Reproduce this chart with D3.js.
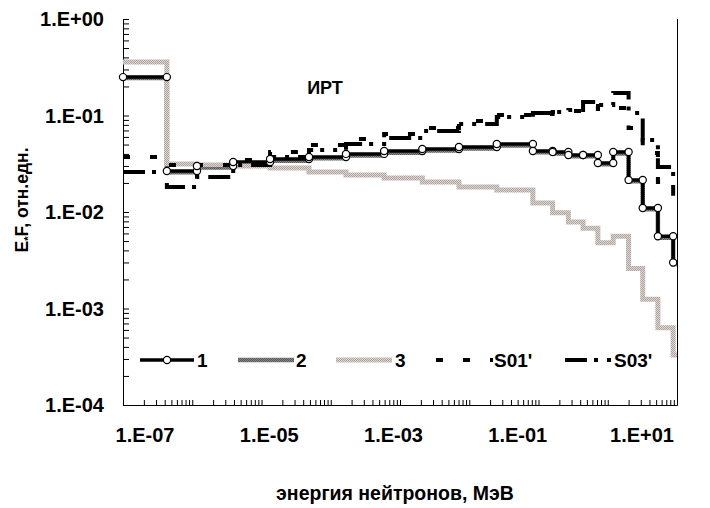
<!DOCTYPE html>
<html><head><meta charset="utf-8">
<script src="https://cdn.jsdelivr.net/npm/d3@7"></script>
<style>
html,body{margin:0;padding:0;background:#fff;}
text{font-family:"Liberation Sans",Arial,sans-serif;font-weight:bold;fill:#000;}
</style></head>
<body><svg id="c" width="710" height="508"></svg>
<script>
// ---- data ----
const edgesMeV = [1e-7, 4.3e-7, 1.17e-6, 3.9e-6, 1.33e-5, 4.85e-5, 1.66e-4, 5.9e-4, 2.1e-3, 7.1e-3, 0.025,
                  0.083, 0.16, 0.27, 0.44, 0.72, 1.2, 2.0, 3.2, 5.3, 8.8, 10];
const series1 = [0.25, 0.0266, 0.030, 0.033, 0.0354, 0.0372, 0.040, 0.0429, 0.045, 0.0472, 0.0507,
                 0.0429, 0.0419, 0.039, 0.039, 0.0322, 0.0419, 0.0215, 0.011, 0.0056, 0.0030];
const series2 = [0.245, 0.0258, 0.029, 0.032, 0.034, 0.036, 0.0385, 0.041, 0.0435, 0.0455, 0.049,
                 0.0415, 0.0405, 0.0378, 0.0378, 0.0312, 0.0405, 0.0208, 0.0107, 0.0054, 0.0029];
const series3 = [0.358, 0.0314, 0.0307, 0.0300, 0.0286, 0.0260, 0.0242, 0.0225, 0.0205, 0.0182, 0.0169,
                 0.0124, 0.0098, 0.0079, 0.0068, 0.0048, 0.0056, 0.0026, 0.00125, 0.00063, 0.00033];
const seriesS01 = [0.0372, 0.0307, 0.0307, 0.0346, 0.0419, 0.0495, 0.0571, 0.0643, 0.0742, 0.0877, 0.1012,
                   0.1036, 0.1087, 0.1113, 0.1254, 0.1168, 0.1196, 0.0742, 0.0409, 0.0205, 0.0133];
const seriesS03 = [0.0260, 0.0182, 0.0230, 0.0307, 0.0372, 0.0439, 0.0507, 0.0584, 0.0691, 0.0816, 0.0965,
                   0.1061, 0.1087, 0.1140, 0.1380, 0.1285, 0.1711, 0.1061, 0.0557, 0.0292, 0.0169];
const seriesNames = ["1", "2", "3", "S01'", "S03'"];
const xTickLabels = ["1.E-07", "1.E-05", "1.E-03", "1.E-01", "1.E+01"];
const yTickValues = [1, 0.1, 0.01, 0.001, 0.0001];
const yTickLabels = ["1.E+00", "1.E-01", "1.E-02", "1.E-03", "1.E-04"];
const chartTitle = "ИРТ";
const xTitle = "энергия нейтронов, МэВ";

// ---- layout ----
const L = 123, R = 677, T = 19, B = 405;
const svg = d3.select("#c");
const x = d3.scaleLog().domain([1e-7, 10]).range([L, R]);
const y = d3.scaleLog().domain([1e-4, 1]).range([B, T]);

const defs = svg.append("defs");
function texture(id, base, dot) {
  const p = defs.append("pattern").attr("id", id).attr("patternUnits", "userSpaceOnUse")
    .attr("width", 2).attr("height", 2);
  p.append("rect").attr("width", 2).attr("height", 2).attr("fill", base);
  p.append("rect").attr("width", 1).attr("height", 1).attr("fill", dot);
  p.append("rect").attr("x", 1).attr("y", 1).attr("width", 1).attr("height", 1).attr("fill", dot);
}
texture("pat2", "#8a8a8a", "#555555");
texture("pat3", "#ddd6d2", "#aea49e");

// axes (ticks inward)
const gy = svg.append("g").attr("transform", `translate(${L},0)`)
  .call(d3.axisLeft(y).tickValues(y.ticks()).tickSize(-6).tickFormat(""));
const gx = svg.append("g").attr("transform", `translate(0,${B})`)
  .call(d3.axisBottom(x).tickValues(x.ticks().filter(v => v > 1e-7 * 1.01)).tickSize(-5).tickFormat(""));
[gy, gx].forEach(g => { g.select(".domain").remove(); g.selectAll("line").attr("stroke", "#000").attr("stroke-width", 1); });
svg.append("line").attr("x1", L + 0.5).attr("x2", L + 0.5).attr("y1", T).attr("y2", B + 0.5).attr("stroke", "#000");
svg.append("line").attr("x1", L).attr("x2", R + 0.5).attr("y1", B + 0.5).attr("y2", B + 0.5).attr("stroke", "#000");
svg.append("line").attr("x1", R + 0.5).attr("x2", R + 0.5).attr("y1", T).attr("y2", B + 0.5).attr("stroke", "#000");

// tick labels
svg.append("g").selectAll("text").data(yTickValues).join("text")
  .attr("x", 104).attr("y", d => y(d)).attr("dy", "0.36em").attr("text-anchor", "end")
  .style("font-size", "20px").text((d, i) => yTickLabels[i]);
const xl = d3.scalePoint().domain(xTickLabels).range([L + 22, R - 35]);
svg.append("g").selectAll("text").data(xTickLabels).join("text")
  .attr("x", d => xl(d)).attr("y", 442).attr("text-anchor", "middle")
  .style("font-size", "20px").text(d => d);

// titles
svg.append("text").attr("x", 395).attr("y", 500).attr("text-anchor", "middle").style("font-size", "19.5px").text(xTitle);
const yt = svg.append("text").attr("transform", "translate(28,200) rotate(-90)").attr("text-anchor", "middle").style("font-size", "17.5px");
yt.append("tspan").text("E");
yt.append("tspan").attr("dy", 4).style("font-size", "11px").text("*");
yt.append("tspan").attr("dy", -4).text("F, отн.едн.");
svg.append("text").attr("x", 325).attr("y", 94).attr("text-anchor", "middle").style("font-size", "18px").text(chartTitle);

// step series
function stepData(vals) {
  const pts = vals.map((v, i) => [edgesMeV[i], v]);
  pts.push([edgesMeV[edgesMeV.length - 1], vals[vals.length - 1]]);
  return pts;
}
const line = d3.line().x(d => x(d[0])).y(d => y(d[1])).curve(d3.curveStepAfter);
const plot = svg.append("g");
const styles = [
  {vals: series2, stroke: "url(#pat2)", w: 4.5, dash: null},
  {vals: series1, stroke: "#000", w: 3.5, dash: null},
  {vals: series3, stroke: "url(#pat3)", w: 5, dash: null},
  {vals: seriesS01, stroke: "#000", w: 4, dash: "7,20"},
  {vals: seriesS03, stroke: "#000", w: 4, dash: "22,7,4,9,4,9"}
];
styles.forEach(s => {
  plot.append("path").datum(stepData(s.vals)).attr("d", line).attr("fill", "none")
    .attr("stroke", s.stroke).attr("stroke-width", s.w).attr("stroke-dasharray", s.dash)
    .attr("stroke-linejoin", "miter").attr("stroke-linecap", "butt");
});
// markers for series 1 at both ends of each bin (except the last edge)
const marks = [];
series1.forEach((v, i) => {
  marks.push([edgesMeV[i], v]);
  if (i < series1.length - 1) marks.push([edgesMeV[i + 1], v]);
});
plot.selectAll("circle").data(marks).join("circle")
  .attr("cx", d => x(d[0])).attr("cy", d => y(d[1])).attr("r", 3.6)
  .attr("fill", "#fff").attr("stroke", "#000").attr("stroke-width", 1.2);

// legend
const legY = 360;
const legItems = [
  {x1: 140, x2: 194, tx: 197, st: styles[1], marker: true},
  {x1: 238, x2: 294, tx: 296, st: styles[0]},
  {x1: 336, x2: 392, tx: 395, st: styles[2]},
  {x1: 436, x2: 493, tx: 494, st: styles[3]},
  {x1: 565, x2: 611, tx: 614, st: styles[4]}
];
const leg = svg.append("g");
legItems.forEach((it, i) => {
  leg.append("line").attr("x1", it.x1).attr("x2", it.x2).attr("y1", legY).attr("y2", legY)
    .attr("stroke", it.st.stroke).attr("stroke-width", it.st.w).attr("stroke-dasharray", it.st.dash);
  if (it.marker) leg.append("circle").attr("cx", (it.x1 + it.x2) / 2).attr("cy", legY).attr("r", 3.6)
    .attr("fill", "#fff").attr("stroke", "#000").attr("stroke-width", 1.2);
  leg.append("text").attr("x", it.tx).attr("y", legY).attr("dy", "0.36em").style("font-size", "19px").text(seriesNames[i]);
});
</script></body></html>
